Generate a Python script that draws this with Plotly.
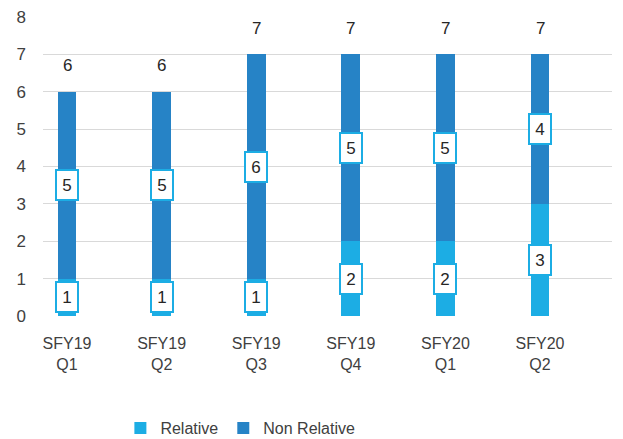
import plotly.graph_objects as go

categories = ["SFY19<br>Q1", "SFY19<br>Q2", "SFY19<br>Q3", "SFY19<br>Q4", "SFY20<br>Q1", "SFY20<br>Q2"]
relative = [1, 1, 1, 2, 2, 3]
non_relative = [5, 5, 6, 5, 5, 4]
y_ticks = [0, 1, 2, 3, 4, 5, 6, 7, 8]

C_REL = "#1CADE4"
C_NON = "#2683C6"
TXT = "#404040"
FONT = "Liberation Sans, sans-serif"

xs = list(range(len(categories)))
totals = [a + b for a, b in zip(relative, non_relative)]

fig = go.Figure()
fig.add_trace(go.Bar(x=xs, y=relative, name="Relative", marker=dict(color=C_REL, line=dict(width=0)), width=0.2))
fig.add_trace(go.Bar(x=xs, y=non_relative, name="Non Relative", marker=dict(color=C_NON, line=dict(width=0)), width=0.2))

annotations = []
for i in xs:
    for y, txt in [(relative[i] / 2, relative[i]), (relative[i] + non_relative[i] / 2, non_relative[i])]:
        annotations.append(dict(
            x=i, y=y, xref="x", yref="y", text=str(txt), showarrow=False,
            font=dict(family=FONT, size=17, color="#262626"),
            bgcolor="white", bordercolor=C_REL, borderwidth=2,
            width=18, height=26, borderpad=1,
        ))
    annotations.append(dict(
        x=i, y=totals[i], xref="x", yref="y", text=str(totals[i]), showarrow=False,
        yshift=26, font=dict(family=FONT, size=17, color="#262626"),
    ))

fig.update_layout(
    width=623, height=439,
    margin=dict(l=43, r=11, t=17, b=123, autoexpand=False),
    barmode="stack",
    plot_bgcolor="white", paper_bgcolor="white",
    font=dict(family=FONT, size=16, color=TXT),
    showlegend=True,
    legend=dict(orientation="h", x=0.136, xanchor="left", y=-0.375, yanchor="middle",
                font=dict(family=FONT, size=16, color=TXT), traceorder="normal",
                itemwidth=30, tracegroupgap=0),
    annotations=annotations,
    xaxis=dict(range=[-0.254, 5.761], tickmode="array", tickvals=xs, ticktext=categories,
               showgrid=False, zeroline=False, showline=False, ticks="", ticklabelstandoff=16,
               tickfont=dict(family=FONT, size=16, color=TXT)),
    yaxis=dict(range=[0, 8], tickmode="array", tickvals=y_ticks, showgrid=True, gridcolor="#D9D9D9",
               gridwidth=1, zeroline=False, showline=False, ticks="", ticklabelstandoff=16,
               tickfont=dict(family=FONT, size=17, color=TXT)),
)

fig.write_html("out.html", config={"displayModeBar": False},
               post_script="document.body.style.margin='0';")
